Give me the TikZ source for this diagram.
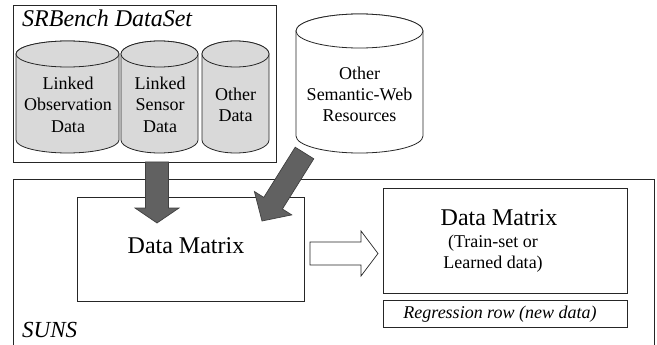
\documentclass[tikz,border=0pt]{standalone}
\usepackage{fontspec}
\setmainfont{Liberation Serif}
\begin{document}
\begin{tikzpicture}[x=1pt,y=-1pt,line join=miter,
  box/.style={draw=black!85,line width=0.8pt},
  cylg/.style={draw=black!85,line width=0.8pt,fill=gray!30},
  cylw/.style={draw=black!85,line width=0.8pt,fill=white},
  bigarrow/.style={draw=black!75,fill=black!62,line width=0.7pt},
  hollow/.style={draw=black!85,fill=white,line width=0.7pt},
  lbl/.style={font=\fontsize{18}{21}\selectfont,inner sep=0pt,anchor=base},
  big/.style={font=\fontsize{24}{28}\selectfont,inner sep=0pt,anchor=base},
  ttl/.style={font=\fontsize{24}{28}\selectfont\itshape,inner sep=0pt,anchor=base west}]
\useasboundingbox (0,0) rectangle (657,345);
\clip (0,0) rectangle (657,345);

% SRBench box
\draw[box] (13,5) rectangle (276,162);
\node[ttl] (srb) at (22,27) {SRBench DataSet};

% cylinder 1
\path[cylg] (16,54) -- (16,140) arc[start angle=180,end angle=0,x radius=51.5,y radius=13] -- (119,54) arc[start angle=0,end angle=-180,x radius=51.5,y radius=13] -- cycle;
\draw[cylg] (67.5,54) ellipse[x radius=51.5,y radius=13];
% cylinder 2
\path[cylg] (121,54) -- (121,140) arc[start angle=180,end angle=0,x radius=38.5,y radius=13] -- (198,54) arc[start angle=0,end angle=-180,x radius=38.5,y radius=13] -- cycle;
\draw[cylg] (159.5,54) ellipse[x radius=38.5,y radius=13];
% cylinder 3
\path[cylg] (202,54) -- (202,140) arc[start angle=180,end angle=0,x radius=33.5,y radius=13] -- (269,54) arc[start angle=0,end angle=-180,x radius=33.5,y radius=13] -- cycle;
\draw[cylg] (235.5,54) ellipse[x radius=33.5,y radius=13];
% other semantic web cylinder
\path[cylw] (296,31) -- (296,136) arc[start angle=180,end angle=0,x radius=63.5,y radius=17] -- (423,31) arc[start angle=0,end angle=-180,x radius=63.5,y radius=17] -- cycle;
\draw[cylw] (359.5,31) ellipse[x radius=63.5,y radius=17];

\node[lbl] (l1a) at (68,90) {Linked};
\node[lbl] (l1b) at (68,111) {Observation};
\node[lbl] (l1c) at (68,132) {Data};
\node[lbl] (l2a) at (160,90) {Linked};
\node[lbl] (l2b) at (160,111) {Sensor};
\node[lbl] (l2c) at (160,132) {Data};
\node[lbl] (l3a) at (235.5,101) {Other};
\node[lbl] (l3b) at (235.5,122) {Data};
\node[lbl] (o1) at (359.5,80) {Other};
\node[lbl] (o2) at (359.5,101) {Semantic-Web};
\node[lbl] (o3) at (359.5,122) {Resources};

% SUNS box
\draw[box] (13,179) rectangle (654,360);
\node[ttl,font=\fontsize{23}{27}\selectfont\itshape] (suns) at (22,337) {SUNS};

% inner boxes
\draw[box] (77,197) rectangle (304,301);
\node[big] (dm1) at (186,253) {Data Matrix};
\draw[box] (383,188) rectangle (627,293);
\node[big] (dm2) at (499,225) {Data Matrix};
\node[lbl] (ts1) at (493,247) {(Train-set or};
\node[lbl] (ts2) at (493,268) {Learned data)};
\draw[box] (383,300) rectangle (627,327);
\node[lbl,font=\fontsize{18}{21}\selectfont\itshape] (reg) at (500,318) {Regression row (new data)};

% arrows
\draw[bigarrow] (145.5,162) -- (145.5,208) -- (135,208) -- (157,223) -- (179,208) -- (168.5,208) -- (168.5,162) -- cycle;
\draw[bigarrow] (295.2,147.2) -- (263.8,197.4) -- (254.4,191.5) -- (262,221) -- (291.8,214.9) -- (282.4,209) -- (313.8,158.8) -- cycle;
\draw[hollow] (310,242) -- (361,242) -- (361,231) -- (378,253.5) -- (361,276) -- (361,265) -- (310,265) -- cycle;
\end{tikzpicture}
\end{document}
